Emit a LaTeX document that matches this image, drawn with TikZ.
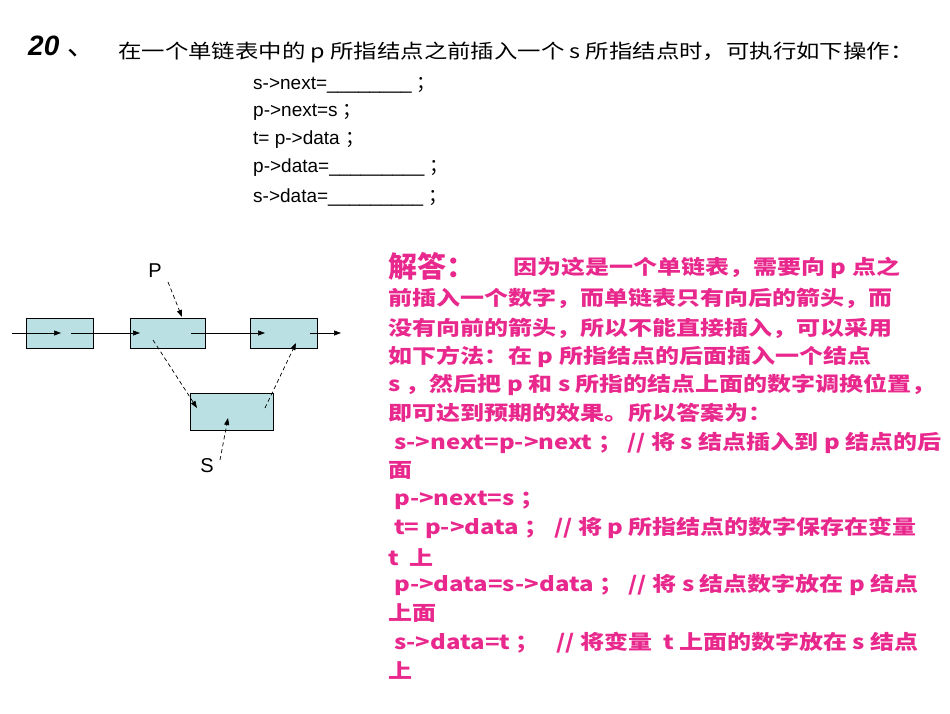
\documentclass[tikz,border=0pt]{standalone}
\usepackage{fontspec}
\setmainfont{Noto Sans CJK SC}
\newfontfamily\cjk{Noto Sans CJK SC}
\newfontfamily\lat{Liberation Sans}
\usetikzlibrary{arrows.meta}
\definecolor{boxfill}{RGB}{187,224,227}
\definecolor{ans}{RGB}{232,40,140}
\newcommand{\fsc}{{\cjk ；}}
\tikzset{
  nodebox/.style={draw=black,fill=boxfill,line width=0.8pt},
  link/.style={-{Triangle[length=7pt,width=5pt]},line width=0.7pt},
  dlink/.style={link,dashed,dash pattern=on 4pt off 3pt},
  code/.style={anchor=west,font=\lat\fontsize{19}{19}\selectfont,inner sep=0pt},
  aline/.style={anchor=west,text=ans,font=\fontsize{20}{20}\selectfont\bfseries,inner sep=0pt,xscale=1.2,transform shape},
}
\begin{document}
\begin{tikzpicture}[x=1pt,y=-1pt]
\useasboundingbox (0,0) rectangle (950,713);
\node[anchor=west,inner sep=0pt,font=\lat\bfseries\itshape\fontsize{28}{28}\selectfont] (num) at (28,47) {20 {\cjk\mdseries\upshape 、}};
\node[anchor=west,inner sep=0pt,font=\fontsize{19.5}{20}\selectfont,xscale=1.2,transform shape] (q) at (118,52) {在一个单链表中的 p 所指结点之前插入一个 s 所指结点时，可执行如下操作：};
\node[code] (c1) at (253,85) {s->next=\_\_\_\_\_\_\_\_ \fsc};
\node[code] (c2) at (253,112) {p->next=s \fsc};
\node[code] (c3) at (253,140) {t= p->data \fsc};
\node[code] (c4) at (253,168) {p->data=\_\_\_\_\_\_\_\_\_ \fsc};
\node[code] (c5) at (253,197) {s->data=\_\_\_\_\_\_\_\_\_ \fsc};
% diagram
\node[nodebox,minimum width=67pt,minimum height=30pt,inner sep=0pt] (b1) at (59.5,333) {};
\node[nodebox,minimum width=75pt,minimum height=30pt,inner sep=0pt] (b2) at (167.5,333) {};
\node[nodebox,minimum width=67pt,minimum height=30pt,inner sep=0pt] (b3) at (283.5,333) {};
\node[nodebox,minimum width=83pt,minimum height=37pt,inner sep=0pt] (bs) at (231.5,411.5) {};
\coordinate (in) at (12,333);
\coordinate (a1) at (61,333);
\coordinate (o1) at (71,333);
\coordinate (a2) at (140,333);
\coordinate (o2) at (191,333);
\coordinate (a3) at (265,333);
\coordinate (o3) at (310,333);
\coordinate (out) at (341,333);
\draw[link] (in) -- (a1);
\draw[link] (o1) -- (a2);
\draw[link] (o2) -- (a3);
\draw[link] (o3) -- (out);
\node[font=\lat\fontsize{20}{20}\selectfont,inner sep=0pt] (P) at (155,271) {P};
\node[font=\lat\fontsize{20}{20}\selectfont,inner sep=0pt] (S) at (207,466) {S};
\coordinate (pt) at (168,282);
\coordinate (ph) at (182,317);
\draw[dlink] (pt) -- (ph);
\coordinate (d1) at (153,340);
\coordinate (d1h) at (197,408);
\draw[dlink] (d1) -- (d1h);
\coordinate (d2) at (265,408);
\coordinate (d2h) at (296,343);
\draw[dlink] (d2) -- (d2h);
\coordinate (st) at (220,460);
\coordinate (sh) at (228,418);
\draw[dlink] (st) -- (sh);
% answer
\node[anchor=west,inner sep=0pt,text=ans,font=\fontsize{29}{29}\selectfont\bfseries\itshape] (jd) at (388,266) {解答：};
\node[aline] (l1) at (513,268) {因为这是一个单链表，需要向 p 点之};
\node[aline] (l2) at (388,298) {前插入一个数字，而单链表只有向后的箭头，而};
\node[aline] (l3) at (388,328) {没有向前的箭头，所以不能直接插入，可以采用};
\node[aline] (l4) at (388,357) {如下方法：在 p 所指结点的后面插入一个结点};
\node[aline] (l5) at (388,385) {s ，然后把 p 和 s 所指的结点上面的数字调换位置，};
\node[aline] (l6) at (388,413) {即可达到预期的效果。所以答案为：};
\node[aline] (l7) at (394,443) {s->next=p->next ； // 将 s 结点插入到 p 结点的后};
\node[aline] (l8) at (388,470) {面};
\node[aline] (l9) at (394,500) {p->next=s ；};
\node[aline] (l10) at (394,528) {t= p->data ； // 将 p 所指结点的数字保存在变量};
\node[aline] (l11) at (388,557) {t\ \ 上};
\node[aline] (l12) at (394,585) {p->data=s->data ； // 将 s 结点数字放在 p 结点};
\node[aline] (l13) at (388,613) {上面};
\node[aline] (l14) at (394,643) {s->data=t ；\ \ \ // 将变量\ \ t 上面的数字放在 s 结点};
\node[aline] (l15) at (388,670) {上};
\end{tikzpicture}
\end{document}
